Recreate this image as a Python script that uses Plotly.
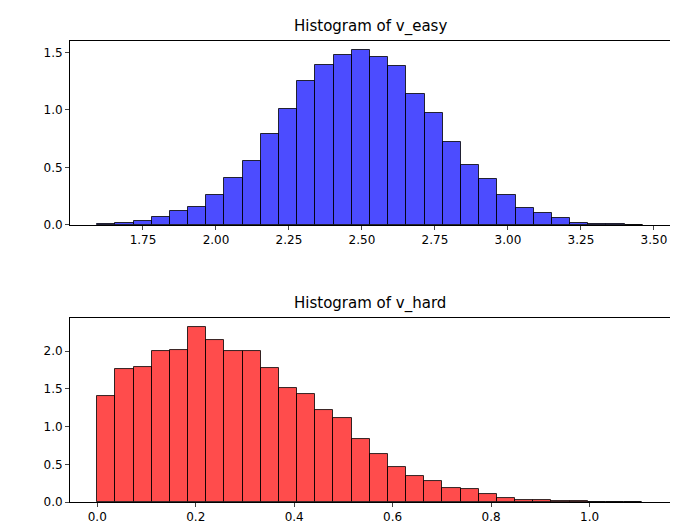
import numpy as np
import plotly.graph_objects as go

# histogram densities (30 bins each)
easy_start, easy_width = 1.593, 0.0623
easy_density = [0.01, 0.02, 0.03, 0.07, 0.12, 0.16, 0.26, 0.41, 0.56, 0.79,
                1.01, 1.25, 1.39, 1.48, 1.52, 1.46, 1.38, 1.14, 0.97, 0.72,
                0.52, 0.40, 0.26, 0.15, 0.10, 0.06, 0.02, 0.01, 0.005, 0.002]
hard_start, hard_width = 0.0, 0.0369
hard_density = [1.41, 1.77, 1.79, 2.00, 2.01, 2.32, 2.15, 2.00, 2.00, 1.78,
                1.51, 1.43, 1.22, 1.11, 0.84, 0.63, 0.47, 0.34, 0.28, 0.19,
                0.17, 0.10, 0.05, 0.02, 0.02, 0.01, 0.01, 0.005, 0.003, 0.002]

def centers(start, width, n):
    return start + width * (np.arange(n) + 0.5)

fig = go.Figure()
fig.add_trace(go.Bar(x=centers(easy_start, easy_width, len(easy_density)), y=easy_density,
                     width=easy_width, marker=dict(color="rgba(0,0,255,0.7)",
                     line=dict(color="rgba(0,0,0,0.8)", width=1)), xaxis="x", yaxis="y"))
fig.add_trace(go.Bar(x=centers(hard_start, hard_width, len(hard_density)), y=hard_density,
                     width=hard_width, marker=dict(color="rgba(255,0,0,0.7)",
                     line=dict(color="rgba(0,0,0,0.8)", width=1)), xaxis="x2", yaxis="y2"))

ax = dict(showline=True, linecolor="black", mirror=True, ticks="outside", ticklen=4,
          showgrid=False, zeroline=False, automargin=False,
          tickfont=dict(size=12, color="black"))
fig.update_layout(
    width=678, height=528, showlegend=False, bargap=0,
    plot_bgcolor="white", paper_bgcolor="white",
    font=dict(family="DejaVu Sans", color="black"),
    margin=dict(l=62, r=16, t=33, b=34, autoexpand=False),
    xaxis=dict(ax, domain=[0, 1], anchor="y", range=[1.5, 3.555],
               tickvals=[1.75, 2.0, 2.25, 2.5, 2.75, 3.0, 3.25, 3.5], tickformat=".2f"),
    yaxis=dict(ax, domain=[0.601, 1], anchor="x", range=[0, 1.6],
               tickvals=[0, 0.5, 1.0, 1.5], tickformat=".1f"),
    xaxis2=dict(ax, domain=[0, 1], anchor="y2", range=[-0.0554, 1.1634],
                tickvals=[0, 0.2, 0.4, 0.6, 0.8, 1.0], tickformat=".1f"),
    yaxis2=dict(ax, domain=[0, 0.399], anchor="x2", range=[0, 2.44],
                tickvals=[0, 0.5, 1.0, 1.5, 2.0], tickformat=".1f"),
    annotations=[
        dict(text="Histogram of v_easy", xref="paper", yref="paper", x=0.5, y=1,
             yanchor="bottom", yshift=3, showarrow=False, font=dict(size=15)),
        dict(text="Histogram of v_hard", xref="paper", yref="paper", x=0.5, y=0.399,
             yanchor="bottom", yshift=3, showarrow=False, font=dict(size=15)),
    ],
)
fig.write_html("out.html")
